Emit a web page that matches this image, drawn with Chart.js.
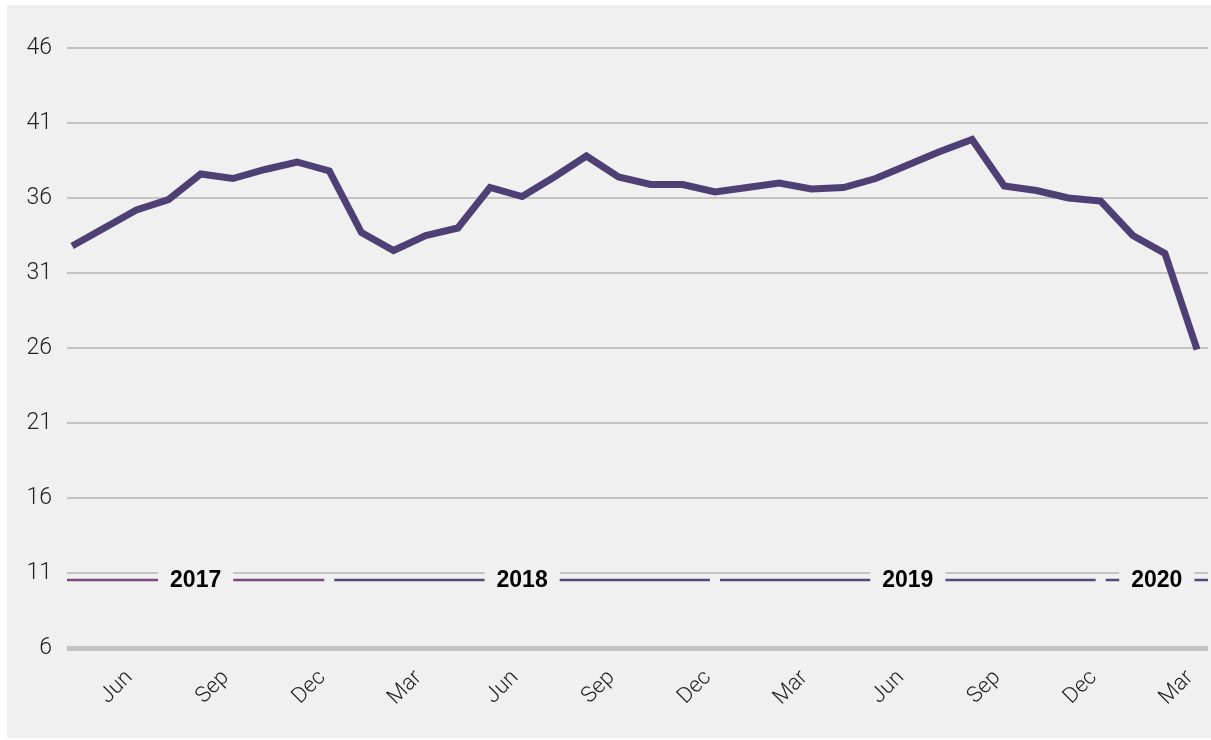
<!DOCTYPE html>
<html>
<head>
<meta charset="utf-8">
<script src="https://cdn.jsdelivr.net/npm/chart.js@4"></script>
<style>
  html, body { margin: 0; padding: 0; background: #ffffff; }
  #wrap { width: 1211px; height: 740px; }
</style>
</head>
<body>
<div id="wrap"><canvas id="chart" width="1211" height="740"></canvas></div>
<script>
// monthly series, Apr 2017 .. Mar 2020
const months = ['Apr','May','Jun','Jul','Aug','Sep','Oct','Nov','Dec',
  'Jan','Feb','Mar','Apr','May','Jun','Jul','Aug','Sep','Oct','Nov','Dec',
  'Jan','Feb','Mar','Apr','May','Jun','Jul','Aug','Sep','Oct','Nov','Dec',
  'Jan','Feb','Mar'];
const values = [32.8, 34.0, 35.2, 35.9, 37.6, 37.3, 37.9, 38.4, 37.8,
  33.7, 32.5, 33.5, 34.0, 36.7, 36.1, 37.4, 38.8, 37.4, 36.9, 36.9, 36.4,
  36.7, 37.0, 36.6, 36.7, 37.3, 38.2, 39.1, 39.9, 36.8, 36.5, 36.0, 35.8,
  33.5, 32.3, 25.9];
const years = ['2017', '2018', '2019', '2020'];
const monthsPerYear = [9, 12, 12, 3];
const yTicks = [6, 11, 16, 21, 26, 31, 36, 41, 46];
const shownMonths = ['Jun', 'Sep', 'Dec', 'Mar'];

const panelBg = '#f0f0f0';
const lineColor = '#4e3f75';
const yearColors = ['#7d4a7f', '#56487d', '#56487d', '#56487d'];

const panel = {
  id: 'panel',
  beforeDraw(chart) {
    const ctx = chart.ctx;
    ctx.save();
    ctx.fillStyle = panelBg;
    ctx.fillRect(7, 5, 1204, 733);
    ctx.restore();
  }
};

// year bands drawn just below the 11 gridline
const yearBands = {
  id: 'yearBands',
  afterDraw(chart) {
    const ctx = chart.ctx;
    const x = chart.scales.x, y = chart.scales.y;
    const area = chart.chartArea;
    const lineY = y.getPixelForValue(11) + 7;
    let first = 0;
    ctx.save();
    years.forEach((yr, k) => {
      const last = first + monthsPerYear[k] - 1;
      const start = first === 0 ? area.left : x.getPixelForValue(first - 1) + 5;
      const end = last === months.length - 1 ? area.right : x.getPixelForValue(last) - 5;
      ctx.strokeStyle = yearColors[k];
      ctx.lineWidth = 2.5;
      ctx.beginPath();
      ctx.moveTo(start, lineY);
      ctx.lineTo(end, lineY);
      ctx.stroke();

      const mid = (start + end) / 2;
      ctx.font = 'bold 23px "Liberation Sans", Arial, sans-serif';
      const w = ctx.measureText(yr).width;
      ctx.fillStyle = panelBg;
      ctx.fillRect(mid - w / 2 - 12, lineY - 16, w + 24, 30);
      ctx.fillStyle = '#000000';
      ctx.textAlign = 'center';
      ctx.textBaseline = 'middle';
      ctx.fillText(yr, mid, lineY + 1);
      first = last + 1;
    });
    ctx.restore();
  }
};

new Chart(document.getElementById('chart').getContext('2d'), {
  type: 'line',
  data: {
    datasets: [{
      data: values.map((v, i) => ({ x: i, y: v })),
      borderColor: lineColor,
      borderWidth: 7,
      pointRadius: 0,
      tension: 0,
      fill: false
    }]
  },
  options: {
    responsive: false,
    animation: false,
    layout: { padding: { top: 48, right: 3, left: 0, bottom: 0 } },
    plugins: { legend: { display: false }, tooltip: { enabled: false } },
    scales: {
      x: {
        type: 'linear',
        min: -0.16,
        max: months.length - 0.66,
        afterFit: s => {
          s.height = 92;
          s.paddingLeft = 0;
          s.paddingRight = 0;
        },
        afterBuildTicks: s => {
          s.ticks = months.map((m, i) => ({ value: i }))
            .filter(t => shownMonths.includes(months[t.value]));
        },
        grid: { display: false },
        border: { display: false },
        ticks: {
          callback: v => months[v],
          minRotation: 45,
          maxRotation: 45,
          autoSkip: false,
          padding: 9,
          labelOffset: -7,
          color: '#222222',
          font: { family: 'Roboto', size: 22, weight: 300 }
        }
      },
      y: {
        min: 6,
        max: 46,
        afterFit: s => { s.width = 67; },
        afterBuildTicks: s => { s.ticks = yTicks.map(v => ({ value: v })); },
        border: { display: false },
        grid: {
          color: '#c3c3c3',
          lineWidth: c => (c.tick && c.tick.value === 6 ? 5 : 2),
          drawTicks: false
        },
        ticks: {
          padding: 15,
          color: '#222222',
          font: { family: 'Roboto', size: 23, weight: 300 }
        }
      }
    }
  },
  plugins: [panel, yearBands]
});
</script>
</body>
</html>
